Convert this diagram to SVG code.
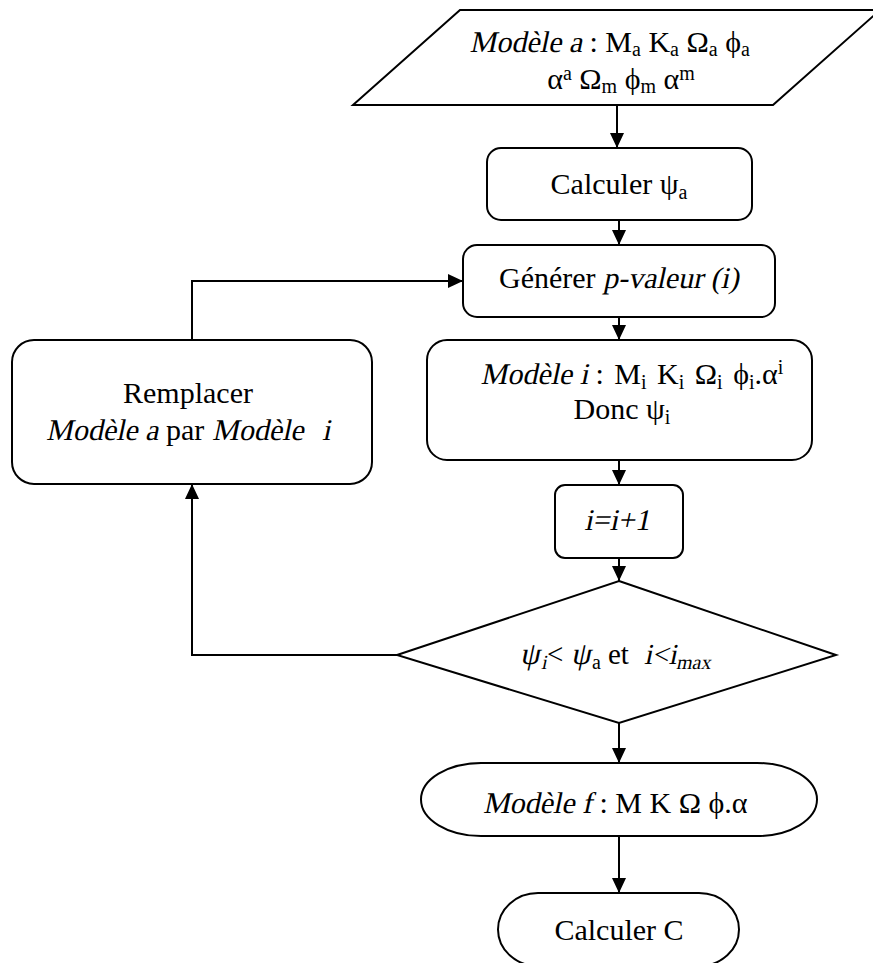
<svg xmlns="http://www.w3.org/2000/svg" width="873" height="963" viewBox="0 0 873 963">
  <style>
    .shape { fill: #ffffff; stroke: #000000; stroke-width: 2; }
    .link { fill: none; stroke: #000000; stroke-width: 2; }
    text { font-family: "Liberation Serif", "DejaVu Serif", serif; font-size: 30px; fill: #000000; text-anchor: middle; }
    .s { text-anchor: start; }
    .e { text-anchor: end; }
    .sm { font-size: 20px; }
  </style>
  <defs>
    <marker id="arrow" viewBox="0 0 15 14" refX="15" refY="7" markerWidth="15" markerHeight="14" markerUnits="userSpaceOnUse" orient="auto">
      <path d="M0,0 L15,7 L0,14 z" fill="#000000"/>
    </marker>
  </defs>

  <!-- connectors -->
  <g id="connectors">
    <line class="link" x1="617" y1="105" x2="617" y2="148" marker-end="url(#arrow)"/>
    <line class="link" x1="619" y1="220" x2="619" y2="245" marker-end="url(#arrow)"/>
    <line class="link" x1="619" y1="317" x2="619" y2="340" marker-end="url(#arrow)"/>
    <line class="link" x1="619" y1="460" x2="619" y2="485" marker-end="url(#arrow)"/>
    <line class="link" x1="619" y1="558" x2="619" y2="581" marker-end="url(#arrow)"/>
    <line class="link" x1="619" y1="723" x2="619" y2="763" marker-end="url(#arrow)"/>
    <line class="link" x1="619" y1="836" x2="619" y2="893" marker-end="url(#arrow)"/>
    <polyline class="link" points="397,655 192,655 192,484" marker-end="url(#arrow)"/>
    <polyline class="link" points="192,340 192,281 463,281" marker-end="url(#arrow)"/>
  </g>

  <!-- italic runs are slanted copies of the upright face (skewX about the baseline) -->

  <!-- input data -->
  <g id="node-input">
    <polygon class="shape" points="460,10 880,10 773,105 353,105"/>
    <text class="e" transform="translate(582,52) skewX(-12)">Modèle a</text>
    <text class="s" x="589.5" y="52">: M<tspan class="sm" dy="4">a</tspan><tspan dy="-4"> K</tspan><tspan class="sm" dy="4">a</tspan><tspan dy="-4"> Ω</tspan><tspan class="sm" dy="4">a</tspan><tspan dy="-4"> ϕ</tspan><tspan class="sm" dy="4">a</tspan></text>
    <text x="621" y="89">α<tspan class="sm" dy="-9">a</tspan><tspan dy="9"> Ω</tspan><tspan class="sm" dy="4">m</tspan><tspan dy="-4"> ϕ</tspan><tspan class="sm" dy="4">m</tspan><tspan dy="-4"> α</tspan><tspan class="sm" dy="-9">m</tspan></text>
  </g>

  <g id="node-calc-psi">
    <rect class="shape" x="487" y="148" width="265" height="72" rx="14"/>
    <text x="619" y="194">Calculer ψ<tspan class="sm" dy="5">a</tspan></text>
  </g>

  <g id="node-generate">
    <rect class="shape" x="463" y="245" width="312" height="72" rx="14"/>
    <text class="s" x="499" y="288">Générer</text>
    <text class="s" transform="translate(603,288) skewX(-12)">p-valeur (i)</text>
  </g>

  <g id="node-model-i">
    <rect class="shape" x="427" y="340" width="385" height="120" rx="20"/>
    <text class="e" transform="translate(588,384) skewX(-12)">Modèle i</text>
    <text class="s" x="595.5" y="384" style="word-spacing:3px">: M<tspan class="sm" dy="5">i</tspan><tspan dy="-5"> K</tspan><tspan class="sm" dy="5">i</tspan><tspan dy="-5"> Ω</tspan><tspan class="sm" dy="5">i</tspan><tspan dy="-5"> ϕ</tspan><tspan class="sm" dy="5">i</tspan><tspan dy="-5">.α</tspan><tspan class="sm" dy="-10">i</tspan></text>
    <text x="622" y="419">Donc ψ<tspan class="sm" dy="5">i</tspan></text>
  </g>

  <g id="node-increment">
    <rect class="shape" x="555" y="485" width="128" height="73" rx="10"/>
    <text transform="translate(617,530) skewX(-12)">i=i+1</text>
  </g>

  <g id="node-test">
    <polygon class="shape" points="619,581 836,655 619,723 397,655"/>
    <g style="font-size:29px">
      <text class="s" transform="translate(520,664) skewX(-12)" style="font-size:31px">ψ</text>
      <text class="s sm" transform="translate(541,669) skewX(-12)">i</text>
      <text class="s" x="547" y="664" style="font-size:29px">&lt;</text>
      <text class="s" transform="translate(571,664) skewX(-12)" style="font-size:31px">ψ</text>
      <text class="s sm" x="592" y="669">a</text>
      <text class="s" x="608" y="664" style="font-size:29px">et</text>
      <text class="s" transform="translate(644,664) skewX(-12)" style="font-size:29px">i&lt;i</text>
      <text class="s sm" transform="translate(676,669) skewX(-12)">max</text>
    </g>
  </g>

  <g id="node-replace">
    <rect class="shape" x="12" y="340" width="360" height="144" rx="22"/>
    <text x="188" y="403">Remplacer</text>
    <text class="s" transform="translate(46,440) skewX(-12)">Modèle a</text>
    <text class="s" x="166" y="440">par</text>
    <text class="s" transform="translate(212,440) skewX(-12)">Modèle</text>
    <text class="s" transform="translate(322,440) skewX(-12)">i</text>
  </g>

  <g id="node-model-f">
    <rect class="shape" x="421" y="763" width="396" height="73" rx="60" ry="36.5"/>
    <text class="e" transform="translate(592,813) skewX(-12)">Modèle f</text>
    <text class="s" x="599.5" y="813">: M K Ω ϕ.α</text>
  </g>

  <g id="node-calc-c">
    <rect class="shape" x="498" y="893" width="241" height="73" rx="40" ry="36.5"/>
    <text x="619" y="940">Calculer C</text>
  </g>
</svg>
